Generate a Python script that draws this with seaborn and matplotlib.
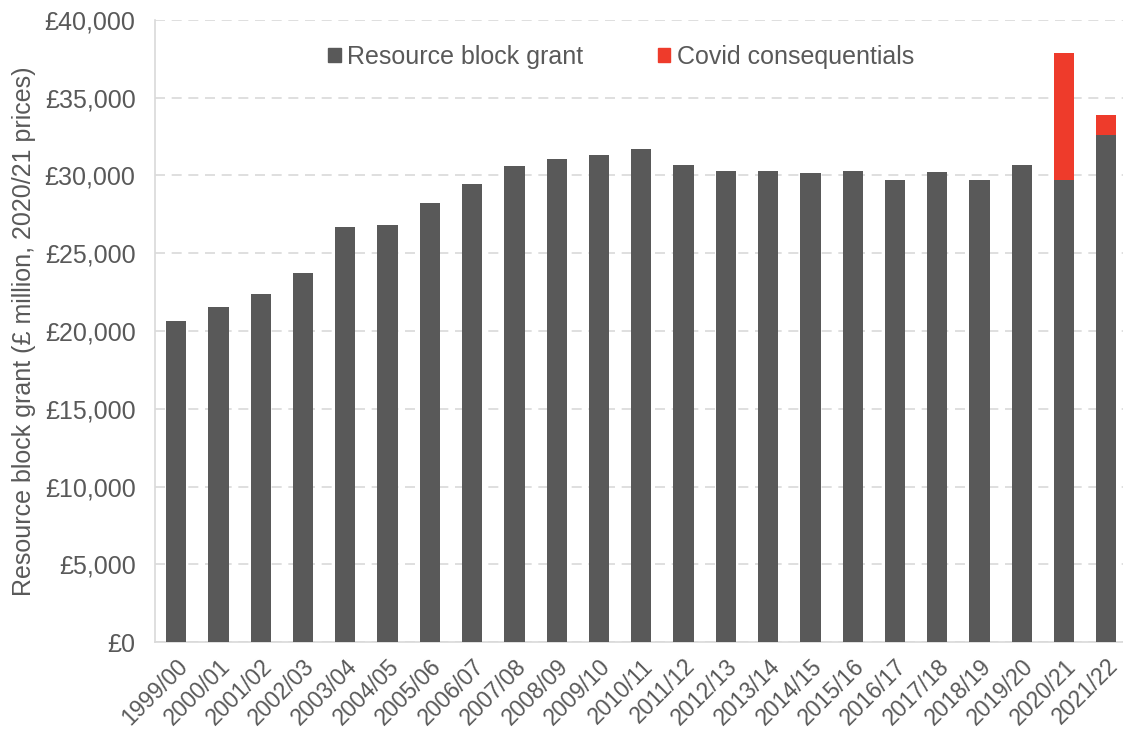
import pandas as pd
import matplotlib
matplotlib.use("Agg")
import matplotlib.pyplot as plt
import matplotlib.ticker as mticker
from matplotlib.patches import Patch
import seaborn as sns

# data (£ million, 2020/21 prices)
years = ["1999/00", "2000/01", "2001/02", "2002/03", "2003/04", "2004/05",
         "2005/06", "2006/07", "2007/08", "2008/09", "2009/10", "2010/11",
         "2011/12", "2012/13", "2013/14", "2014/15", "2015/16", "2016/17",
         "2017/18", "2018/19", "2019/20", "2020/21", "2021/22"]
grant = [20670, 21560, 22400, 23700, 26690, 26820, 28250, 29470, 30620,
         31090, 31330, 31690, 30700, 30260, 30320, 30130, 30320, 29680,
         30240, 29740, 30700, 29680, 32620]
covid = [0, 0, 0, 0, 0, 0, 0, 0, 0, 0, 0, 0, 0, 0, 0, 0, 0, 0, 0, 0, 0,
         8170, 1290]

grey = "#595959"
red = "#EE3B2B"
text_col = "#595959"

df = pd.DataFrame({"year": years, "grant": grant, "covid": covid})
df["total"] = df["grant"] + df["covid"]

sns.set_style("white")
plt.rcParams["font.family"] = ["Liberation Sans", "DejaVu Sans"]

fig = plt.figure(figsize=(11.23, 7.40), dpi=100)
ax = fig.add_axes([0.138, 0.1324, 0.866, 0.8406])

# stacked bars: totals in red first, grant in grey on top
sns.barplot(data=df, x="year", y="total", color=red, width=0.48,
            saturation=1, linewidth=0, ax=ax, zorder=3)
sns.barplot(data=df, x="year", y="grant", color=grey, width=0.48,
            saturation=1, linewidth=0, ax=ax, zorder=4)

ax.set_ylim(0, 40000)
ax.set_xlim(-0.5, len(years) - 0.5)
ax.yaxis.set_major_locator(mticker.MultipleLocator(5000))
ax.yaxis.set_major_formatter(mticker.FuncFormatter(lambda v, p: f"£{v:,.0f}"))
ax.grid(axis="y", color="#D9D9D9", linestyle=(0, (6, 4)), linewidth=1.2, zorder=0)

for side in ["top", "right"]:
    ax.spines[side].set_visible(False)
for side in ["left", "bottom"]:
    ax.spines[side].set_color("#D9D9D9")
    ax.spines[side].set_linewidth(1.2)

ax.tick_params(axis="both", length=0, labelcolor=text_col)
ax.tick_params(axis="y", pad=14, labelsize=18)
ax.tick_params(axis="x", pad=9)
plt.setp(ax.get_xticklabels(), rotation=45, ha="right", rotation_mode="anchor",
         fontsize=16.5)

ax.set_xlabel("")
ax.set_ylabel("Resource block grant (£ million, 2020/21 prices)", fontsize=18,
              color=text_col, labelpad=6)

handles = [Patch(color=grey, label="Resource block grant"),
           Patch(color=red, label="Covid consequentials")]
leg = fig.legend(handles=handles, loc="center", bbox_to_anchor=(0.553, 0.923),
                 ncol=2, frameon=False, fontsize=18, handlelength=0.5,
                 handleheight=0.5, handletextpad=0.25, columnspacing=3.0)
for t in leg.get_texts():
    t.set_color(text_col)

fig.savefig("out.png", dpi=100)
